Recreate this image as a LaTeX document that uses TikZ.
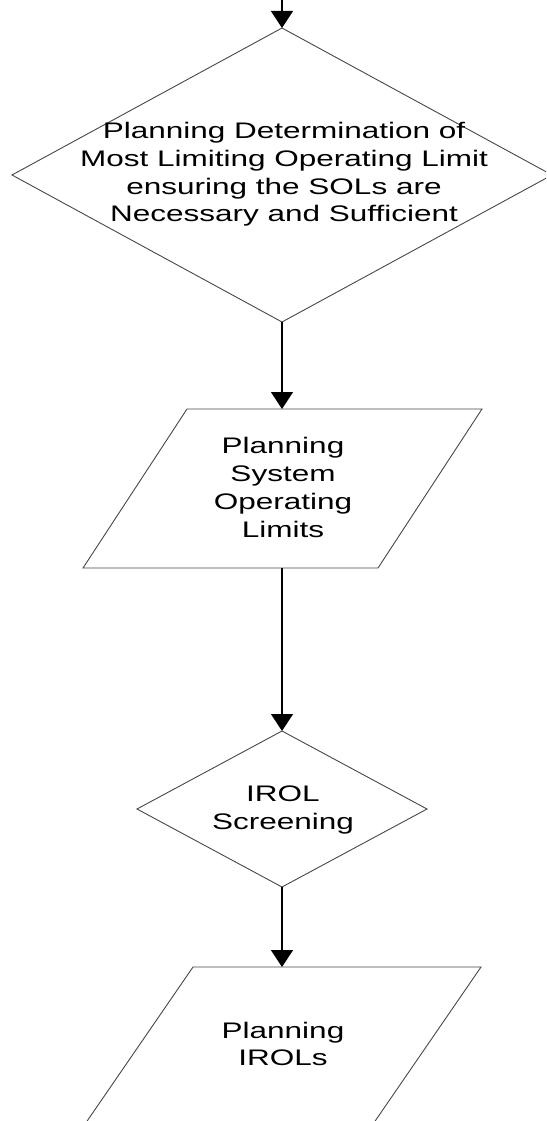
\documentclass[tikz,border=0pt]{standalone}
\usepackage{fontspec}
\setmainfont{Liberation Sans}[FakeStretch=1.4]
\usetikzlibrary{arrows.meta,shapes.geometric}
\begin{document}
\begin{tikzpicture}[x=1pt,y=-1pt,
  shapeline/.style={draw=black!72, line width=0.9pt, line join=miter},
  decision/.style={diamond, draw=black!72, line width=0.9pt, inner sep=0pt, outer sep=0pt},
  conn/.style={draw=black, line width=1.3pt, -{Triangle[width=22pt,length=17pt]}},
  txt/.style={align=center, font=\fontsize{22.5}{27.7}\selectfont, inner sep=0pt, text=black}]
\useasboundingbox (0,0) rectangle (546,1121);
\clip (0,0) rectangle (546,1121);

% top free end
\coordinate (start) at (282,-2);

% big decision
\node[decision, minimum width=540pt, minimum height=294pt] (d1) at (282,175) {};
\node[txt] (t1) at (284,174.5) {Planning Determination of\\Most Limiting Operating Limit\\ensuring the SOLs are\\Necessary and Sufficient};

% parallelogram 1
\coordinate (p1tl) at (187,409);
\coordinate (p1tr) at (482,409);
\coordinate (p1br) at (378,568);
\coordinate (p1bl) at (83,568);
\coordinate (p1top) at (282,409);
\coordinate (p1bot) at (282,568);
\draw[shapeline] (p1tl) -- (p1tr) -- (p1br) -- (p1bl) -- cycle;
\node[txt] (t2) at (283,487.5) {Planning\\System\\Operating\\Limits};

% IROL decision
\node[decision, minimum width=290pt, minimum height=156pt] (d2) at (282,809) {};
\node[txt] (t3) at (283,810) {IROL\\Screening};

% parallelogram 2 (cut off)
\coordinate (p2tl) at (193,967);
\coordinate (p2tr) at (481,967);
\coordinate (p2br) at (371,1127);
\coordinate (p2bl) at (83,1127);
\coordinate (p2top) at (282,967);
\draw[shapeline] (p2tl) -- (p2tr) -- (p2br) -- (p2bl) -- cycle;
\node[txt] (t4) at (283,1044) {Planning\\IROLs};

% connectors
\draw[conn] (start) -- (d1.north);
\draw[conn] (d1.south) -- (p1top);
\draw[conn] (p1bot) -- (d2.north);
\draw[conn] (d2.south) -- (p2top);
\end{tikzpicture}
\end{document}
